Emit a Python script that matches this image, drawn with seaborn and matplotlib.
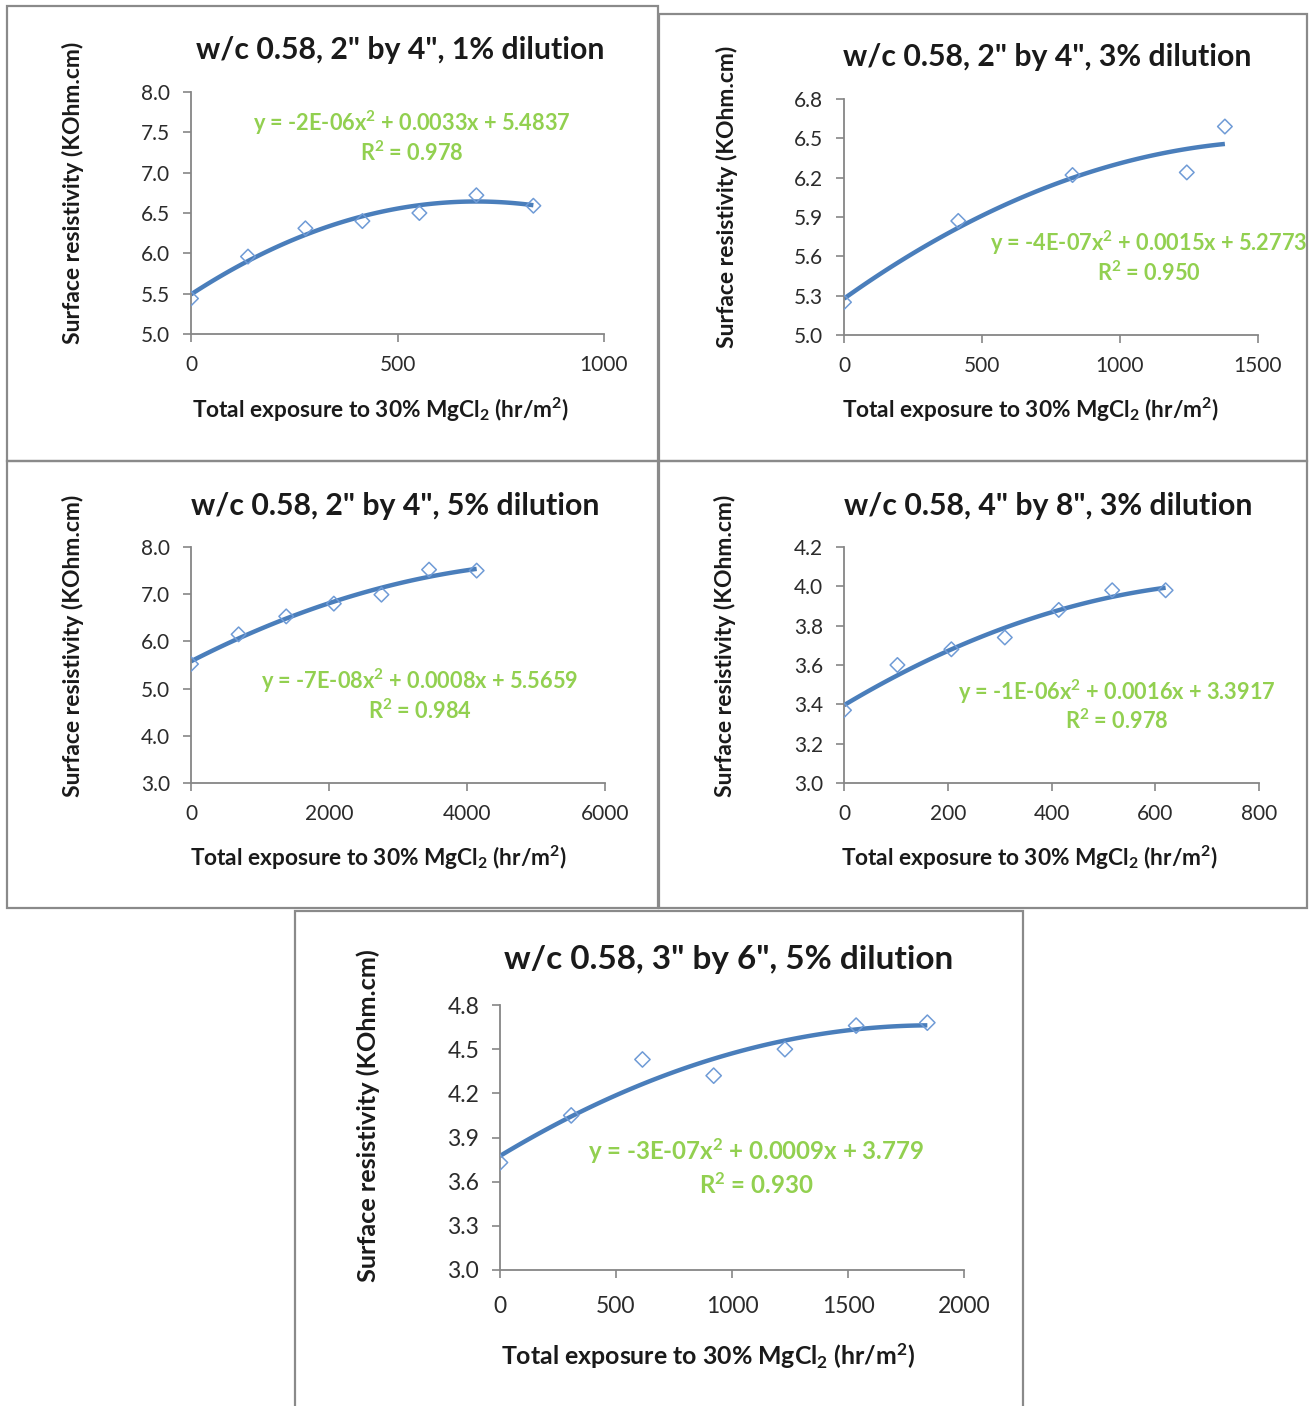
import numpy as np
import matplotlib
matplotlib.use("Agg")
import matplotlib.pyplot as plt
from matplotlib.patches import Rectangle
import seaborn as sns

sns.set_style("ticks")
plt.rcParams['font.family'] = ['Lato', 'DejaVu Sans']
plt.rcParams['mathtext.default'] = 'regular'

# data (exposure hr/m2, resistivity KOhm.cm)
x1 = [0, 138, 277, 415, 553, 691, 829]
y1 = [5.44, 5.96, 6.31, 6.40, 6.50, 6.72, 6.59]
x2 = [0, 414, 828, 1242, 1380]
y2 = [5.25, 5.87, 6.22, 6.24, 6.59]
x3 = [0, 690, 1380, 2070, 2760, 3450, 4140]
y3 = [5.52, 6.15, 6.53, 6.80, 6.99, 7.52, 7.50]
x4 = [0, 103, 207, 310, 414, 517, 620]
y4 = [3.37, 3.60, 3.68, 3.74, 3.88, 3.98, 3.98]
x5 = [0, 307, 614, 921, 1228, 1535, 1842]
y5 = [3.73, 4.05, 4.43, 4.32, 4.50, 4.66, 4.68]

titles = ['w/c 0.58, 2" by 4", 1% dilution', 'w/c 0.58, 2" by 4", 3% dilution',
          'w/c 0.58, 2" by 4", 5% dilution', 'w/c 0.58, 4" by 8", 3% dilution',
          'w/c 0.58, 3" by 6", 5% dilution']
equations = ['y = -2E-06x$^2$ + 0.0033x + 5.4837', 'y = -4E-07x$^2$ + 0.0015x + 5.2773',
             'y = -7E-08x$^2$ + 0.0008x + 5.5659', 'y = -1E-06x$^2$ + 0.0016x + 3.3917',
             'y = -3E-07x$^2$ + 0.0009x + 3.779']
r2_labels = ['R$^2$ = 0.978', 'R$^2$ = 0.950', 'R$^2$ = 0.984', 'R$^2$ = 0.978', 'R$^2$ = 0.930']
xticks = [[0, 500, 1000], [0, 500, 1000, 1500], [0, 2000, 4000, 6000],
          [0, 200, 400, 600, 800], [0, 500, 1000, 1500, 2000]]
yticks = [[5.0, 5.5, 6.0, 6.5, 7.0, 7.5, 8.0], [5.0, 5.3, 5.6, 5.9, 6.2, 6.5, 6.8],
          [3.0, 4.0, 5.0, 6.0, 7.0, 8.0], [3.0, 3.2, 3.4, 3.6, 3.8, 4.0, 4.2],
          [3.0, 3.3, 3.6, 3.9, 4.2, 4.5, 4.8]]

W, H = 1310, 1406
fig = plt.figure(figsize=(W / 100, H / 100), dpi=100)

# layout in pixels: panel box, axes box (l, t, r, b), text anchors
panels = [
    dict(box=(7, 6, 658, 461), ax=(191, 92, 604, 334), title=(400, 50), ylab=(73, 193),
         xlab=(380, 410), eq=(0.535, 0.872, 0.748), s=1.0),
    dict(box=(659, 14, 1307, 461), ax=(844, 99, 1258, 335), title=(1047, 57), ylab=(727, 197),
         xlab=(1030, 410), eq=(0.737, 0.390, 0.263), s=1.0),
    dict(box=(7, 461, 658, 908), ax=(191, 547, 605, 783), title=(395, 506), ylab=(73, 646),
         xlab=(378, 858), eq=(0.552, 0.432, 0.305), s=1.0),
    dict(box=(659, 461, 1307, 908), ax=(844, 547, 1259, 783), title=(1048, 506), ylab=(725, 646),
         xlab=(1029, 858), eq=(0.657, 0.386, 0.263), s=1.0),
    dict(box=(295, 911, 1023, 1410), ax=(500, 1005, 964, 1270), title=(729, 960), ylab=(368, 1116),
         xlab=(708, 1356), eq=(0.552, 0.449, 0.321), s=1.1),
]
xs = [x1, x2, x3, x4, x5]
ys = [y1, y2, y3, y4, y5]

line_col = '#4a7ebb'
mark_col = '#6f9bd6'
eq_col = '#92d050'
axis_col = '#868686'

for i, p in enumerate(panels):
    bl, bt, br, bb = p['box']
    fig.patches.append(Rectangle((bl / W, 1 - bb / H), (br - bl) / W, (bb - bt) / H,
                                 transform=fig.transFigure, fill=False,
                                 edgecolor='#8a8a8a', linewidth=1.6))
    l, t, r, b = p['ax']
    ax = fig.add_axes([l / W, 1 - b / H, (r - l) / W, (b - t) / H])
    s = p['s']

    sns.regplot(x=xs[i], y=ys[i], order=2, ci=None, scatter=False, ax=ax,
                line_kws=dict(color=line_col, linewidth=3.2, solid_capstyle='butt'))
    sns.scatterplot(x=xs[i], y=ys[i], ax=ax, marker='D', s=55 * s, facecolors='none',
                    edgecolor=mark_col, linewidth=1.1, zorder=3)

    ax.set_xlim(xticks[i][0], xticks[i][-1])
    ax.set_ylim(yticks[i][0], yticks[i][-1])
    ax.set_xticks(xticks[i])
    ax.set_yticks(yticks[i])
    ax.set_yticklabels([f'{v:.1f}' for v in yticks[i]])
    ax.tick_params(axis='both', direction='out', length=6, width=1.2, color=axis_col,
                   labelsize=15 * s, labelcolor='#2b2b2b', pad=9)
    if s > 1:
        ax.tick_params(axis='x', pad=13)
    sns.despine(ax=ax)
    for sp in ('left', 'bottom'):
        ax.spines[sp].set_color(axis_col)
        ax.spines[sp].set_linewidth(1.3)
    ax.set_xlabel('')
    ax.set_ylabel('')
    ax.set_facecolor('none')

    ax.text(p['eq'][0], p['eq'][1], equations[i], transform=ax.transAxes, ha='center',
            va='center', color=eq_col, fontsize=15.7 * s, fontweight='bold')
    ax.text(p['eq'][0], p['eq'][2], r2_labels[i], transform=ax.transAxes, ha='center',
            va='center', color=eq_col, fontsize=15.7 * s, fontweight='bold')

    fig.text(p['title'][0] / W, 1 - p['title'][1] / H, titles[i], ha='center', va='center',
             fontsize=21.8 * s, fontweight='bold', color='#1a1a1a')
    fig.text(p['ylab'][0] / W, 1 - p['ylab'][1] / H, 'Surface resistivity (KOhm.cm)',
             rotation=90, ha='center', va='center', fontsize=16.5 * s, fontweight='bold',
             color='#1a1a1a')
    fig.text(p['xlab'][0] / W, 1 - p['xlab'][1] / H,
             'Total exposure to 30% MgCl$_2$ (hr/m$^2$)', ha='center', va='center',
             fontsize=16.3 * s, fontweight='bold', color='#1a1a1a')

fig.savefig('out.png', dpi=100, facecolor='white')
